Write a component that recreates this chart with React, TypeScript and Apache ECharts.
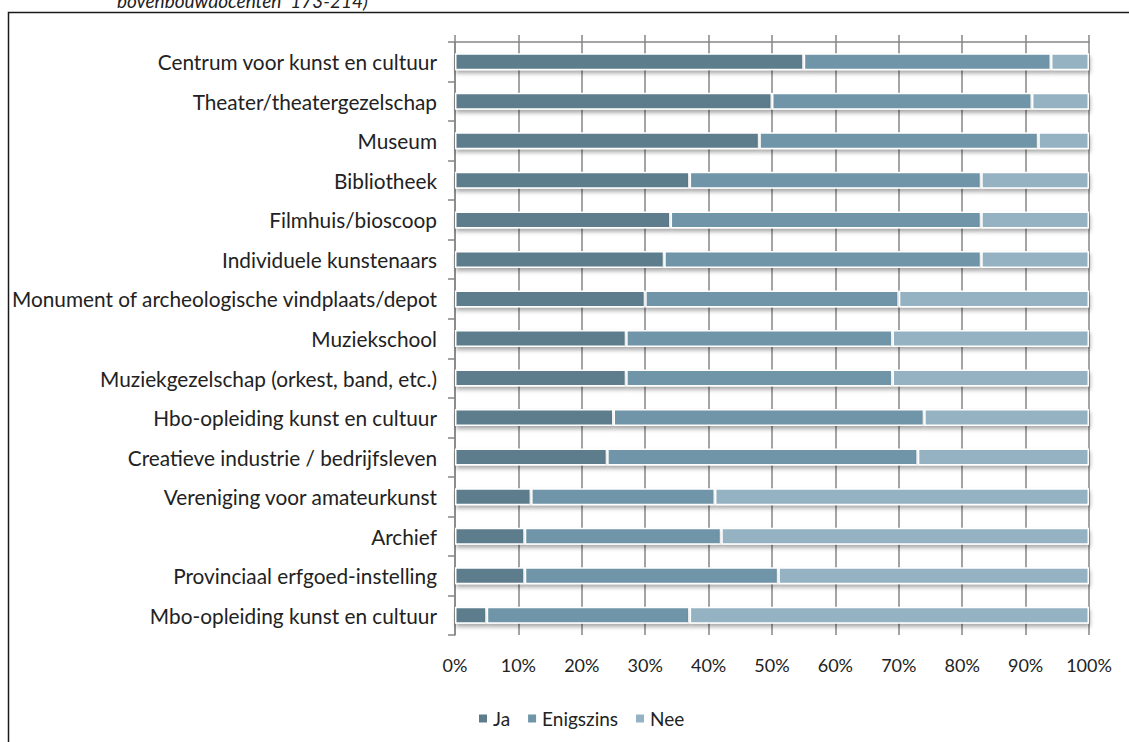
import React, { useEffect, useRef } from "react";
import * as echarts from "echarts";

const categories = [
  "Centrum voor kunst en cultuur",
  "Theater/theatergezelschap",
  "Museum",
  "Bibliotheek",
  "Filmhuis/bioscoop",
  "Individuele kunstenaars",
  "Monument of archeologische vindplaats/depot",
  "Muziekschool",
  "Muziekgezelschap (orkest, band, etc.)",
  "Hbo-opleiding kunst en cultuur",
  "Creatieve industrie / bedrijfsleven",
  "Vereniging voor amateurkunst",
  "Archief",
  "Provinciaal erfgoed-instelling",
  "Mbo-opleiding kunst en cultuur",
];

const ja = [55, 50, 48, 37, 34, 33, 30, 27, 27, 25, 24, 12, 11, 11, 5];
const enigszins = [39, 41, 44, 46, 49, 50, 40, 42, 42, 49, 49, 29, 31, 40, 32];
const nee = [6, 9, 8, 17, 17, 17, 30, 31, 31, 26, 27, 59, 58, 49, 63];

const seriesNames = ["Ja", "Enigszins", "Nee"];
const seriesColors = ["#5d7c8c", "#6f95a8", "#95b2c3"];
const tickValues = [0, 10, 20, 30, 40, 50, 60, 70, 80, 90, 100];

const FONT = "Lato, 'Open Sans', sans-serif";

export default function App() {
  const ref = useRef<HTMLDivElement>(null);

  useEffect(() => {
    if (!ref.current) return;
    const chart = echarts.init(ref.current, null, { renderer: "svg" });
    const datasets = [ja, enigszins, nee];

    chart.setOption({
      animation: false,
      backgroundColor: "#ffffff",
      textStyle: { fontFamily: FONT },
      graphic: [
        {
          type: "text",
          left: 117,
          top: -9,
          style: {
            text: "bovenbouwdocenten  173-214)",
            font: "italic 19px Lato, sans-serif",
            fill: "#222",
          },
        },
        {
          type: "polyline",
          shape: { points: [[8.5, 760], [8.5, 12.5], [1140, 12.5]] },
          style: { fill: "none", stroke: "#1a1a1a", lineWidth: 1.5 },
          z: -10,
        },
      ],
      grid: { left: 455, right: 40, top: 42, bottom: 107 },
      legend: {
        left: 472,
        top: 704,
        itemWidth: 10,
        itemHeight: 10,
        itemGap: 16,
        icon: "rect",
        textStyle: { fontSize: 19, color: "#222", fontFamily: FONT },
        data: seriesNames,
      },
      xAxis: [
        {
          type: "value",
          position: "top",
          min: 0,
          max: 100,
          interval: 10,
          axisLine: { show: true, lineStyle: { color: "#868686", width: 1.5 } },
          axisTick: { show: true, length: 7, lineStyle: { color: "#868686", width: 1.5 } },
          axisLabel: { show: false },
          splitLine: { show: true, lineStyle: { color: "#868686", width: 1.5 } },
        },
        {
          type: "value",
          position: "bottom",
          min: 0,
          max: 100,
          interval: 10,
          axisLine: { show: false },
          axisTick: { show: false },
          splitLine: { show: false },
          axisLabel: {
            show: true,
            margin: 21,
            fontSize: 18,
            color: "#222",
            fontFamily: FONT,
            formatter: (v: number) => (tickValues.includes(v) ? v + "%" : ""),
          },
        },
      ],
      yAxis: {
        type: "category",
        inverse: true,
        data: categories,
        axisLine: { show: true, lineStyle: { color: "#868686", width: 1.5 } },
        axisTick: { show: true, length: 7, lineStyle: { color: "#868686", width: 1.5 } },
        axisLabel: { margin: 18, fontSize: 20.8, color: "#222", fontFamily: FONT },
      },
      series: datasets.map((d, i) => ({
        name: seriesNames[i],
        type: "bar",
        stack: "total",
        xAxisIndex: 0,
        barWidth: 17,
        data: d,
        itemStyle: {
          color: seriesColors[i],
          borderColor: "#ffffff",
          borderWidth: 1.5,
          shadowColor: "rgba(0,0,0,0.35)",
          shadowBlur: 4,
          shadowOffsetY: 3,
          shadowOffsetX: 1,
        },
      })),
    });

    return () => chart.dispose();
  }, []);

  return (
    <div
      ref={ref}
      style={{ position: "absolute", left: 0, top: 0, width: 1129, height: 742 }}
    />
  );
}
